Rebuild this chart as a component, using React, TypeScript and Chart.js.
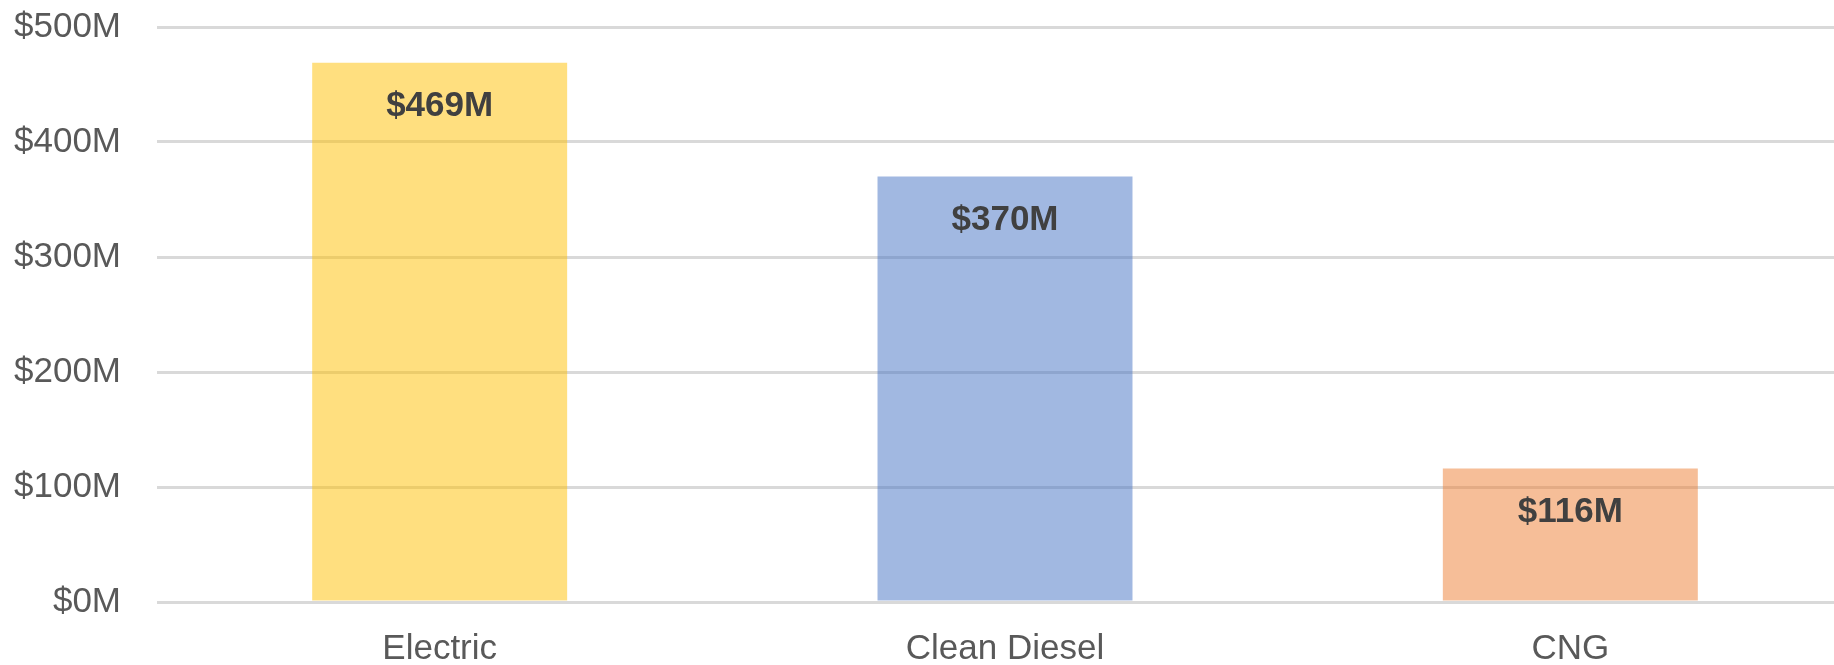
import React, { useEffect, useRef } from "react";
import { Chart, registerables } from "chart.js";

Chart.register(...registerables);

const categories = ["Electric", "Clean Diesel", "CNG"];
const values = [469, 370, 116];
const barColors = ["rgba(255,192,0,0.5)", "rgba(68,114,196,0.5)", "rgba(237,125,49,0.5)"];
const yTicks = [0, 100, 200, 300, 400, 500];

const FONT = "'Liberation Sans', Arial, sans-serif";

const labelPlugin = {
  id: "barLabels",
  afterDatasetsDraw(chart: any) {
    const ctx = chart.ctx;
    const meta = chart.getDatasetMeta(0);
    ctx.save();
    ctx.font = `bold 35px ${FONT}`;
    ctx.fillStyle = "#404040";
    ctx.textAlign = "center";
    ctx.textBaseline = "alphabetic";
    meta.data.forEach((bar: any, i: number) => {
      ctx.fillText("$" + values[i] + "M", bar.x, bar.y + 53);
    });
    ctx.restore();
  },
};

export default function App() {
  const ref = useRef<HTMLCanvasElement>(null);
  useEffect(() => {
    if (!ref.current) return;
    const chart = new Chart(ref.current, {
      type: "bar",
      data: {
        labels: categories,
        datasets: [
          {
            data: values,
            backgroundColor: barColors,
            borderWidth: 0,
            categoryPercentage: 1,
            barPercentage: 0.451,
          },
        ],
      },
      plugins: [labelPlugin],
      options: {
        animation: false,
        responsive: false,
        maintainAspectRatio: false,
        layout: { padding: { top: 27, left: 0, right: 0, bottom: 0 } },
        plugins: { legend: { display: false }, tooltip: { enabled: false } },
        scales: {
          x: {
            grid: { display: false, drawTicks: false },
            border: { display: false },
            ticks: {
              color: "#595959",
              font: { family: FONT, size: 35 },
              padding: 26,
              maxRotation: 0,
              autoSkip: false,
            },
            afterFit(scale: any) {
              scale.height = 63;
              scale.paddingLeft = 0;
              scale.paddingRight = 0;
            },
          },
          y: {
            min: 0,
            max: 500,
            afterBuildTicks(scale: any) {
              scale.ticks = yTicks.map((v) => ({ value: v }));
            },
            grid: { color: "#d9d9d9", lineWidth: 3, drawTicks: false },
            border: { display: false },
            ticks: {
              color: "#595959",
              font: { family: FONT, size: 35 },
              padding: 36,
              callback: (v: any) => "$" + v + "M",
            },
            afterFit(scale: any) {
              scale.width = 157;
              scale.paddingTop = 0;
              scale.paddingBottom = 0;
            },
          },
        },
      },
    });
    return () => chart.destroy();
  }, []);
  return (
    <div
      style={{
        position: "fixed",
        left: 0,
        top: 0,
        width: 1834,
        height: 665,
        overflow: "hidden",
        background: "#fff",
      }}
    >
      <canvas ref={ref} width={1853} height={665} style={{ width: 1853, height: 665, display: "block" }} />
    </div>
  );
}
